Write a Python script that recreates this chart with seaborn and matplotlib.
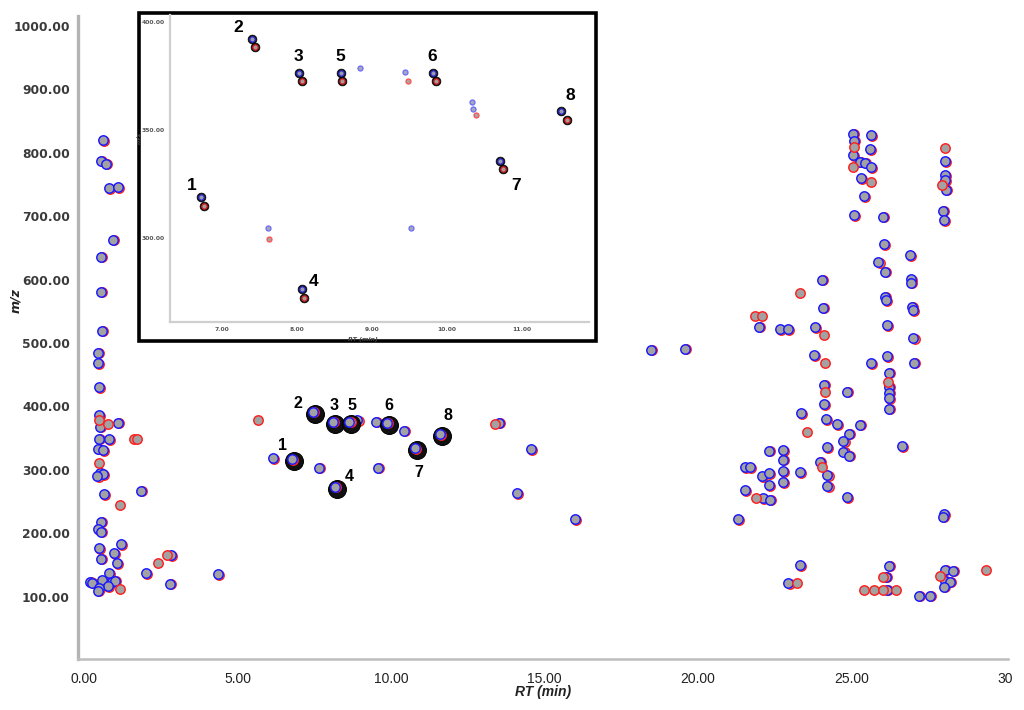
import matplotlib
matplotlib.use("Agg")
import matplotlib.pyplot as plt
import seaborn as sns
import pandas as pd
from matplotlib.transforms import offset_copy
from matplotlib.patches import Rectangle

# ---------------- main chart data ----------------
main_rt = [0.47, 0.47, 0.49, 0.50, 0.49, 0.79, 1.12, 0.52,
           0.49, 0.82, 1.63, 1.73, 0.47, 0.63, 0.49, 0.52,
           0.63, 0.44, 0.65, 1.85, 1.18, 0.54, 0.47, 0.55,
           0.49, 0.54, 1.21, 0.99, 1.07, 2.70, 2.84, 2.40,
           2.01, 4.36, 2.81, 0.19, 0.25, 0.60, 0.81, 0.90,
           1.01, 0.77, 0.49, 0.45, 1.18, 5.68, 6.16, 0.63,
           0.55, 0.71, 0.81, 1.12, 0.95, 0.55, 0.54, 0.58,
           7.66, 9.59, 8.91, 9.52, 10.41, 13.39, 13.53, 14.56,
           14.10, 16.00, 18.47, 19.59, 25.04, 25.63, 25.08, 25.09,
           25.61, 25.04, 25.29, 25.45, 25.04, 25.63, 25.31, 25.63,
           25.42, 25.08, 26.03, 28.05, 28.05, 28.05, 28.05, 27.95,
           28.07, 27.98, 28.00, 26.05, 26.92, 25.88, 26.10, 26.95,
           26.95, 24.04, 23.34, 26.10, 26.13, 24.07, 26.97, 26.99,
           21.86, 22.08, 22.00, 22.66, 22.92, 23.82, 24.11, 26.16,
           27.02, 23.77, 24.14, 25.63, 26.16, 27.05, 26.23, 26.18,
           26.23, 26.23, 26.23, 26.23, 24.11, 24.14, 24.85, 24.11,
           23.35, 24.18, 24.53, 25.29, 23.54, 24.93, 24.74, 24.20,
           24.74, 24.93, 26.66, 22.30, 22.78, 22.78, 22.78, 22.78,
           23.33, 23.96, 24.04, 24.22, 24.22, 24.85, 21.54, 21.68,
           22.08, 22.32, 22.30, 21.54, 21.90, 22.11, 22.36, 21.31,
           28.02, 27.97, 23.33, 22.95, 23.22, 26.23, 26.13, 26.03,
           25.42, 25.74, 26.03, 26.16, 26.46, 28.05, 28.31, 27.89,
           28.05, 28.21, 28.02, 27.19, 27.55, 29.39]
main_mz = [484.7, 468.0, 430.0, 386.0, 378.0, 372.0, 374.0, 368.0,
           348.6, 348.0, 348.0, 348.0, 333.0, 331.0, 310.7, 295.5,
           293.0, 290.0, 261.4, 267.0, 245.0, 218.0, 206.6, 202.0,
           176.0, 160.0, 182.5, 168.0, 152.5, 165.6, 165.6, 152.5,
           136.7, 135.0, 120.0, 123.5, 122.0, 126.0, 136.7, 123.5,
           125.0, 116.7, 113.0, 109.0, 112.5, 378.5, 318.0, 820.0,
           787.6, 783.0, 743.8, 745.4, 662.5, 636.0, 581.0, 519.0,
           303.0, 303.0, 378.5, 376.0, 361.7, 373.0, 374.6, 332.3,
           263.0, 222.4, 489.0, 491.0, 829.7, 827.6, 819.0, 809.6,
           805.5, 796.5, 786.0, 784.4, 777.0, 777.0, 759.8, 754.6,
           731.5, 701.9, 699.2, 807.0, 786.3, 765.0, 757.0, 749.0,
           742.0, 708.8, 694.0, 656.0, 638.8, 627.0, 612.6, 600.6,
           595.0, 599.4, 579.4, 573.0, 567.7, 555.7, 557.4, 552.0,
           543.0, 543.0, 525.7, 521.5, 521.5, 524.6, 512.6, 528.4,
           507.4, 481.0, 468.0, 468.0, 479.5, 469.0, 453.0, 439.0,
           431.0, 421.6, 412.6, 396.0, 433.8, 423.0, 423.0, 403.3,
           389.0, 379.6, 371.7, 370.7, 360.0, 356.5, 345.4, 335.5,
           328.5, 321.8, 337.5, 330.0, 331.0, 315.5, 298.0, 280.0,
           296.0, 312.9, 304.0, 291.8, 274.4, 256.6, 304.0, 304.0,
           290.0, 294.4, 276.0, 268.0, 255.0, 255.0, 252.4, 222.4,
           229.8, 226.0, 149.8, 121.0, 121.0, 148.7, 131.4, 131.4,
           111.0, 111.0, 111.0, 111.0, 111.0, 142.6, 140.8, 133.0,
           125.0, 123.5, 115.7, 101.6, 101.6, 142.0]
# which sample's marker lies on top: b = blue sample, r = red sample
main_top = list("bbbbrrbb" "bbrrbbrb" "bbbbrbbb" "bbbbbrbr" "bbbbbbbb"
                "bbbbrrbb" "bbbbbbbb" "bbbbbrbb" "bbbbbbbr" "bbbbrbbr"
                "bbbrbbbr" "bbbbbbbb" "bbrbbbbb" "rrbbbbrb" "bbrbbbbr"
                "bbbbbrbb" "bbbbrbbb" "bbbbbbbb" "bbrbbbbb" "bbbbrbbb"
                "bbbbrbbr" "rrrbrbbr" "bbbbbr")

ring_rt = [6.77, 7.47, 8.10, 8.18, 8.65, 9.88, 10.78, 11.60]
ring_mz = [317.0, 391.6, 375.9, 273.4, 375.9, 374.4, 334.0, 356.0]
ring_num = ["1", "2", "3", "4", "5", "6", "7", "8"]
lab_rt = [6.48, 6.98, 8.14, 8.64, 8.74, 9.92, 10.92, 11.87]
lab_mz = [339.0, 405.0, 402.0, 290.0, 402.0, 402.0, 295.0, 385.0]

x_ticks = [0, 5, 10, 15, 20, 25, 30]
x_tick_labels = ["0.00", "5.00", "10.00", "15.00", "20.00", "25.00", "30"]
y_ticks = [100, 200, 300, 400, 500, 600, 700, 800, 900, 1000]
y_tick_labels = ["100.00", "200.00", "300.00", "400.00", "500.00", "600.00",
                 "700.00", "800.00", "900.00", "1000.00"]

# ---------------- inset data ----------------
in_blue_rt = [6.71, 7.40, 8.02, 8.06, 8.58, 9.81, 10.71, 11.52]
in_blue_mz = [318.7, 392.4, 376.5, 276.0, 376.5, 376.5, 335.7, 358.6]
in_red_rt = [6.75, 7.43, 8.06, 8.09, 8.60, 9.85, 10.75, 11.61]
in_red_mz = [314.7, 388.3, 372.5, 271.9, 372.5, 372.5, 331.7, 354.4]
in_num = ["1", "2", "3", "4", "5", "6", "7", "8"]
in_lab_rt = [6.59, 7.21, 8.02, 8.22, 8.58, 9.81, 10.93, 11.65]
in_lab_mz = [324.3, 397.7, 384.2, 279.4, 384.2, 384.2, 324.3, 366.0]
in_small_blue_rt = [8.84, 9.44, 10.33, 10.35, 7.61, 9.52]
in_small_blue_mz = [378.8, 376.8, 362.9, 359.8, 304.2, 304.2]
in_small_red_rt = [9.48, 10.39, 7.62]
in_small_red_mz = [372.8, 357.0, 299.1]
in_x_ticks = [7, 8, 9, 10, 11]
in_y_ticks = [300, 350, 400]

GRAY = "#a2a2a2"
BLUE = "#1a1aff"
RED = "#ff2020"

sns.set_style("white")
plt.rcParams["font.family"] = ["DejaVu Sans"]

W, H = 1024, 710
fig = plt.figure(figsize=(W / 100, H / 100), dpi=100)

# main axes
ax = fig.add_axes([77.5 / W, 1 - 659.3 / H, (1008 - 77.5) / W, (659.3 - 16) / H])
ax.set_xlim(-0.21, 30.1)
ax.set_ylim(1.1, 1015.8)

df = pd.DataFrame({"rt": main_rt, "mz": main_mz, "top": main_top})
dfb = df[df["top"] == "b"]
dfr = df[df["top"] == "r"]

under = offset_copy(ax.transData, fig=fig, x=1.1, y=-0.5, units="dots")
ring_tr = offset_copy(ax.transData, fig=fig, x=2.0, y=-2.0, units="dots")

S = 46
LW = 1.05
sns.scatterplot(data=dfb, x="rt", y="mz", ax=ax, s=S, color=GRAY, edgecolor=RED,
                linewidth=LW, transform=under, zorder=2, legend=False)
sns.scatterplot(data=dfb, x="rt", y="mz", ax=ax, s=S, color=GRAY, edgecolor=BLUE,
                linewidth=LW, zorder=3, legend=False)
sns.scatterplot(data=dfr, x="rt", y="mz", ax=ax, s=S, color=GRAY, edgecolor=RED,
                linewidth=LW, zorder=3, legend=False)

# ringed (numbered) features
dring = pd.DataFrame({"rt": ring_rt, "mz": ring_mz})
sns.scatterplot(data=dring, x="rt", y="mz", ax=ax, s=165, color="#111111", edgecolor="#000000",
                linewidth=0.8, transform=ring_tr, zorder=4, legend=False)
sns.scatterplot(data=dring, x="rt", y="mz", ax=ax, s=S, color=GRAY, edgecolor=RED,
                linewidth=LW, transform=under, zorder=5, legend=False)
sns.scatterplot(data=dring, x="rt", y="mz", ax=ax, s=S, color=GRAY, edgecolor=BLUE,
                linewidth=LW, zorder=6, legend=False)
for t, x, y in zip(ring_num, lab_rt, lab_mz):
    ax.text(x, y, t, ha="center", va="center", fontsize=11.5, fontweight="bold",
            family="Liberation Sans", color="black", zorder=7)

ax.set_xticks(x_ticks)
ax.set_xticklabels(x_tick_labels, family="Liberation Sans", fontsize=10, color="#222222")
ax.set_yticks(y_ticks)
ax.set_yticklabels(y_tick_labels, fontsize=8.8, fontweight="bold", color="#3a3a3a")
ax.tick_params(axis="both", length=4, width=1, color="#9a9a9a", direction="out")
ax.tick_params(axis="y", pad=1.5)
ax.tick_params(axis="x", pad=5)
for side in ["top", "right"]:
    ax.spines[side].set_visible(False)
ax.spines["left"].set_color("#b4b4b4")
ax.spines["left"].set_linewidth(2.4)
ax.spines["bottom"].set_color("#bdbdbd")
ax.spines["bottom"].set_linewidth(1.8)
ax.set_xlabel("RT (min)", family="Liberation Sans", fontsize=10, fontstyle="italic",
              fontweight="bold", color="#222222")
ax.xaxis.set_label_coords(0.5, -0.04)
ax.set_ylabel("m/z", fontsize=9, fontstyle="italic", fontweight="bold", color="#222222")
ax.yaxis.set_label_coords(-0.06, 0.558)

# inset frame
frame = Rectangle((138.5 / W, 1 - 341 / H), (596 - 138.5) / W, (341 - 13) / H,
                  transform=fig.transFigure, facecolor="white", edgecolor="black",
                  linewidth=2.6, zorder=2)
fig.patches.append(frame)

ax2 = fig.add_axes([170 / W, 1 - 321.7 / H, (589 - 170) / W, (321.7 - 14.5) / H])
ax2.set_zorder(3)
ax2.patch.set_alpha(0)
ax2.set_xlim(6.30, 11.90)
ax2.set_ylim(260.9, 403.6)

dib = pd.DataFrame({"rt": in_blue_rt, "mz": in_blue_mz})
dir_ = pd.DataFrame({"rt": in_red_rt, "mz": in_red_mz})
dsb = pd.DataFrame({"rt": in_small_blue_rt, "mz": in_small_blue_mz})
dsr = pd.DataFrame({"rt": in_small_red_rt, "mz": in_small_red_mz})
for d, c, fc in [(dib, "#3030e0", "#9a9aa8"), (dir_, "#e02020", "#a89a9a")]:
    sns.scatterplot(data=d, x="rt", y="mz", ax=ax2, s=40, color="#101010", edgecolor="#000000",
                    linewidth=0.5, zorder=3, legend=False)
    sns.scatterplot(data=d, x="rt", y="mz", ax=ax2, s=14, color=fc,
                    edgecolor=c, linewidth=0.9, zorder=4, legend=False)
sns.scatterplot(data=dsb, x="rt", y="mz", ax=ax2, s=13, color="#a8a8b8", edgecolor="#6a6aff",
                linewidth=0.9, zorder=4, legend=False)
sns.scatterplot(data=dsr, x="rt", y="mz", ax=ax2, s=13, color="#b0a0a0", edgecolor="#ff5050",
                linewidth=0.9, zorder=4, legend=False)
for t, x, y in zip(in_num, in_lab_rt, in_lab_mz):
    ax2.text(x, y, t, ha="center", va="center", fontsize=12.5, fontweight="bold",
             family="Liberation Sans", color="black", zorder=5)

ax2.set_xticks(in_x_ticks)
ax2.set_xticklabels([f"{v:.2f}" for v in in_x_ticks], fontsize=4.3, color="#555555", fontweight="bold")
ax2.set_yticks(in_y_ticks)
ax2.set_yticklabels([f"{v:.2f}" for v in in_y_ticks], fontsize=4.3, color="#555555", fontweight="bold")
ax2.tick_params(axis="both", length=2, width=0.6, color="#999999", pad=1.5)
for side in ["top", "right"]:
    ax2.spines[side].set_visible(False)
for side in ["left", "bottom"]:
    ax2.spines[side].set_color("#cfcfcf")
    ax2.spines[side].set_linewidth(1.6)
ax2.set_xlabel("RT (min)", fontsize=4.5, fontstyle="italic", fontweight="bold", color="#444444",
               labelpad=0)
ax2.xaxis.set_label_coords(0.46, -0.05)
ax2.set_ylabel("m/z", fontsize=4.5, fontstyle="italic", fontweight="bold", color="#444444")
ax2.yaxis.set_label_coords(-0.068, 0.6)

fig.savefig("out.png", dpi=100)
